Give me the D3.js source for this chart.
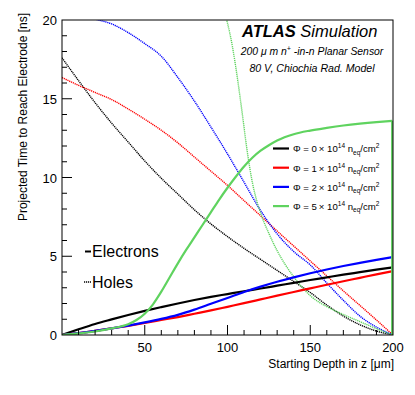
<!DOCTYPE html>
<html lang="en">
<head>
<meta charset="utf-8">
<script src="https://d3js.org/d3.v7.min.js"></script>
<style>
    body { margin: 0; background: #fff; }
    svg { font-family: "Liberation Sans", Arial, Helvetica, sans-serif; }
    .tick-label { font-size: 13px; fill: #000; }
    .axis-title { font-size: 12px; fill: #000; }
</style>
</head>
<body>
<svg id="chart" width="415" height="395"></svg>
<script>
    // fluence labels (x 10^14 neq/cm^2) and colours
    const fluences = [0, 1, 2, 5];
    const colors = ["#000000", "#ff0000", "#0000ff", "#5fd35f"];

    // electrons: time to reach electrode [ns] vs starting depth [um]
    const elecZ = [0, 10, 20, 30, 40, 50, 60, 70, 80, 90, 100, 110, 120, 130, 140, 150, 160, 170, 180, 190, 200];
    const elecPhi0 = [0, 0.36, 0.7, 0.99, 1.27, 1.53, 1.77, 2.0, 2.22, 2.42, 2.6, 2.78, 2.95, 3.13, 3.31, 3.49, 3.66, 3.83, 3.99, 4.15, 4.3];
    const elecPhi1 = [0, 0.12, 0.26, 0.42, 0.58, 0.76, 0.95, 1.14, 1.35, 1.56, 1.79, 2.02, 2.26, 2.5, 2.73, 2.96, 3.19, 3.41, 3.63, 3.85, 4.06];
    const elecPhi2 = [0, 0.12, 0.26, 0.42, 0.6, 0.8, 1.02, 1.28, 1.61, 1.98, 2.35, 2.73, 3.07, 3.38, 3.66, 3.92, 4.16, 4.38, 4.58, 4.77, 4.95];
    const elecZ5 = [0, 10, 20, 30, 40, 45, 50, 55, 60, 65, 70, 75, 80, 85, 90, 95, 100, 105, 110, 115, 120, 125, 130, 140, 150, 160, 170, 180, 190, 199.5];
    const elecPhi5 = [0, 0.1, 0.22, 0.42, 0.68, 0.95, 1.35, 1.95, 2.75, 3.65, 4.55, 5.4, 6.2, 7.0, 7.8, 8.6, 9.35, 10.05, 10.7, 11.25, 11.7, 12.05, 12.35, 12.75, 12.98, 13.15, 13.3, 13.42, 13.52, 13.6];

    // holes
    const holeZ = [0, 10, 20, 30, 40, 50, 60, 70, 80, 90, 100, 110, 120, 130, 140, 150, 160, 170, 180, 190, 200];
    const holePhi0 = [17.6, 16.15, 14.75, 13.45, 12.25, 11.05, 9.95, 8.95, 7.95, 7.05, 6.25, 5.5, 4.8, 4.1, 3.4, 2.7, 1.9, 1.2, 0.65, 0.25, 0];
    const holePhi1 = [16.35, 15.85, 15.4, 14.95, 14.35, 13.7, 13.0, 12.2, 11.3, 10.4, 9.5, 8.53, 7.57, 6.6, 5.65, 4.7, 3.75, 2.8, 1.88, 0.95, 0];
    const holeZ2 = [18, 20, 30, 40, 50, 60, 70, 80, 90, 100, 110, 120, 130, 140, 150, 160, 170, 180, 190, 200];
    const holePhi2 = [20.1, 20.05, 19.75, 19.2, 18.5, 17.7, 16.35, 14.85, 13.2, 11.5, 9.7, 7.9, 6.42, 5.3, 4.45, 3.3, 2.2, 1.2, 0.5, 0];
    const holeZ5 = [99, 100, 103, 106, 109, 112, 115, 118, 121, 125, 130, 135, 140, 145, 150, 155, 160, 170, 180, 190, 200];
    const holePhi5 = [20.2, 19.8, 18.3, 16.3, 14.0, 11.6, 9.7, 8.4, 7.45, 6.45, 5.35, 4.45, 3.7, 3.05, 2.5, 2.1, 1.8, 1.3, 0.85, 0.4, 0];

    const xTicks = [50, 100, 150, 200];
    const yTicks = [0, 5, 10, 15, 20];

    const width = 415, height = 395;
    const margin = { top: 20, right: 22, bottom: 60, left: 62 };

    const svg = d3.select("#chart");

    const x = d3.scaleLinear().domain([0, 200]).range([margin.left, width - margin.right]);
    const y = d3.scaleLinear().domain([0, 20]).range([height - margin.bottom, margin.top]);

    svg.append("defs").append("clipPath").attr("id", "plot-clip")
        .append("rect")
        .attr("x", x(0)).attr("y", y(20))
        .attr("width", x(200) - x(0)).attr("height", y(0) - y(20));

    const line = d3.line()
        .x(d => x(d[0]))
        .y(d => y(d[1]))
        .curve(d3.curveMonotoneX);

    const plot = svg.append("g").attr("clip-path", "url(#plot-clip)");

    const holes = [
        [holeZ, holePhi0], [holeZ, holePhi1], [holeZ2, holePhi2], [holeZ5, holePhi5]
    ];
    const electrons = [
        [elecZ, elecPhi0], [elecZ, elecPhi1], [elecZ, elecPhi2], [elecZ5, elecPhi5]
    ];

    holes.forEach((h, i) => {
        plot.append("path")
            .datum(d3.zip(h[0], h[1]))
            .attr("d", line)
            .attr("fill", "none")
            .attr("stroke", colors[i])
            .attr("stroke-width", 1.4)
            .attr("stroke-dasharray", "1.2,0.8");
    });

    electrons.forEach((e, i) => {
        plot.append("path")
            .datum(d3.zip(e[0], e[1]))
            .attr("d", line)
            .attr("fill", "none")
            .attr("stroke", colors[i])
            .attr("stroke-width", 2.2)
            .attr("stroke-linejoin", "round");
    });

    // drop of the last green bin back to zero
    const lastZ = elecZ5[elecZ5.length - 1];
    plot.append("line")
        .attr("x1", x(lastZ)).attr("x2", x(lastZ))
        .attr("y1", y(elecPhi5[elecPhi5.length - 1])).attr("y2", y(0))
        .attr("stroke", colors[3]).attr("stroke-width", 2.2);

    // frame
    svg.append("rect")
        .attr("x", x(0)).attr("y", y(20))
        .attr("width", x(200) - x(0)).attr("height", y(0) - y(20))
        .attr("fill", "none").attr("stroke", "#000").attr("stroke-width", 1);

    // ticks, drawn inside the frame
    const ax = svg.append("g").attr("stroke", "#000").attr("stroke-width", 1);
    d3.range(10, 200, 10).forEach(v => {
        const major = v % 50 === 0;
        ax.append("line")
            .attr("x1", x(v)).attr("x2", x(v))
            .attr("y1", y(0)).attr("y2", y(0) - (major ? 10 : 5));
    });
    d3.range(1, 20, 1).forEach(v => {
        const major = v % 5 === 0;
        ax.append("line")
            .attr("x1", x(0)).attr("x2", x(0) + (major ? 10 : 5))
            .attr("y1", y(v)).attr("y2", y(v));
    });

    svg.selectAll(".xlab").data(xTicks).enter().append("text")
        .attr("class", "tick-label")
        .attr("x", d => x(d)).attr("y", y(0) + 17)
        .attr("text-anchor", "middle")
        .text(d => d);

    svg.selectAll(".ylab").data(yTicks).enter().append("text")
        .attr("class", "tick-label")
        .attr("x", x(0) - 5).attr("y", d => y(d) + 5)
        .attr("text-anchor", "end")
        .text(d => d);

    svg.append("text").attr("class", "axis-title")
        .attr("x", x(200) + 1).attr("y", 368)
        .attr("text-anchor", "end")
        .text("Starting Depth in z [\u03bcm]");

    svg.append("text").attr("class", "axis-title")
        .attr("transform", `translate(26.5,13) rotate(-90)`)
        .attr("text-anchor", "end")
        .text("Projected Time to Reach Electrode [ns]");

    // ATLAS label
    const lab = svg.append("text").attr("x", 242).attr("y", 37).attr("font-size", 16.5).attr("fill", "#000");
    lab.append("tspan").attr("font-weight", "bold").attr("font-style", "italic").text("ATLAS");
    lab.append("tspan").attr("font-style", "italic").text(" Simulation");

    const l2 = svg.append("text").attr("x", 312).attr("y", 55).attr("font-size", 10.4)
        .attr("font-style", "italic").attr("text-anchor", "middle");
    l2.append("tspan").text("200 \u03bc m n");
    l2.append("tspan").attr("dy", -4).attr("font-size", 7).text("+");
    l2.append("tspan").attr("dy", 4).text(" -in-n Planar Sensor");

    svg.append("text").attr("x", 312).attr("y", 72).attr("font-size", 10.6)
        .attr("font-style", "italic").attr("text-anchor", "middle")
        .text("80 V, Chiochia Rad. Model");

    // fluence legend
    fluences.forEach((f, i) => {
        const yy = 148.5 + i * 19.2;
        svg.append("line")
            .attr("x1", 273).attr("x2", 289).attr("y1", yy).attr("y2", yy)
            .attr("stroke", colors[i]).attr("stroke-width", 2.2);
        const t = svg.append("text").attr("x", 293).attr("y", yy + 3.8).attr("font-size", 9.6).attr("fill", "#000");
        t.append("tspan").text(`\u03a6 = ${f}\u2009\u00d7 10`);
        t.append("tspan").attr("dy", -4).attr("font-size", 6.5).text("14");
        t.append("tspan").attr("dy", 4).text(" n");
        t.append("tspan").attr("dy", 2.5).attr("font-size", 6.5).text("eq");
        t.append("tspan").attr("dy", -2.5).text("/cm");
        t.append("tspan").attr("dy", -4).attr("font-size", 6.5).text("2");
    });

    // carrier legend
    svg.append("line").attr("x1", 85).attr("x2", 91).attr("y1", 251.5).attr("y2", 251.5)
        .attr("stroke", "#000").attr("stroke-width", 2);
    svg.append("text").attr("x", 92).attr("y", 257).attr("font-size", 16).text("Electrons");
    svg.append("line").attr("x1", 84).attr("x2", 91).attr("y1", 282).attr("y2", 282)
        .attr("stroke", "#000").attr("stroke-width", 1.4).attr("stroke-dasharray", "1.2,0.8");
    svg.append("text").attr("x", 92).attr("y", 287.5).attr("font-size", 16).text("Holes");
</script>
</body>
</html>
